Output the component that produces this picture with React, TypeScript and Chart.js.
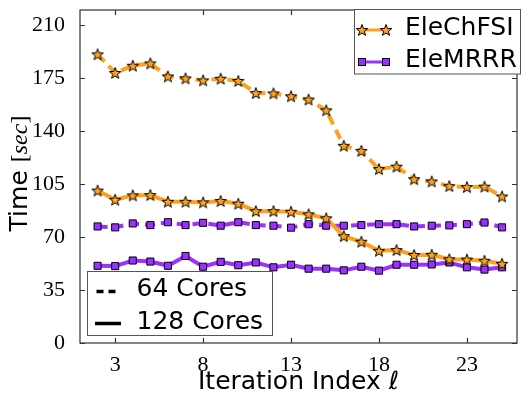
import React, { useEffect, useRef } from 'react';
import { Chart, registerables } from 'chart.js';

Chart.register(...registerables);

// ---- data ----
const iterations = [2, 3, 4, 5, 6, 7, 8, 9, 10, 11, 12, 13, 14, 15, 16, 17, 18, 19, 20, 21, 22, 23, 24, 25];
const eleChFSI64 = [190.7, 178.4, 183.2, 184.7, 176.1, 174.8, 173.5, 174.6, 173.1, 165.1, 164.9, 163.0, 160.8, 153.7, 130.3, 126.9, 114.9, 116.5, 108.2, 106.7, 103.6, 103.0, 103.3, 96.8];
const eleChFSI128 = [100.7, 94.6, 97.5, 97.7, 93.3, 93.3, 92.9, 93.8, 92.0, 87.1, 87.1, 86.7, 85.0, 82.4, 70.6, 66.9, 60.9, 61.4, 58.1, 58.3, 55.3, 55.1, 54.3, 52.3];
const eleMRRR64 = [77.0, 76.4, 79.0, 77.9, 79.8, 77.9, 79.4, 77.5, 79.8, 77.9, 77.5, 76.2, 78.5, 77.5, 77.5, 77.9, 78.5, 78.5, 77.0, 77.5, 77.7, 78.5, 79.6, 76.4];
const eleMRRR128 = [51.0, 50.8, 54.5, 53.8, 51.0, 57.5, 50.4, 53.6, 51.4, 53.2, 50.0, 51.7, 49.1, 49.1, 48.0, 50.4, 47.8, 51.7, 51.7, 51.9, 53.2, 50.0, 48.5, 50.0];
const xTicks = [3, 8, 13, 18, 23];
const yTicks = [0, 35, 70, 105, 140, 175, 210];
const seriesNames = ['EleChFSI', 'EleMRRR'];
const coreLabels = ['64 Cores', '128 Cores'];

const ORANGE = '#ffa11f';
const PURPLE = '#9b30ff';
const SANS = '"DejaVu Sans", sans-serif';
const SERIF = '"Liberation Serif", serif';

function makeStar(r: number, fill: string): HTMLCanvasElement {
  const size = Math.ceil(r * 2 + 4);
  const c = document.createElement('canvas');
  c.width = size;
  c.height = size;
  const ctx = c.getContext('2d')!;
  const cx = size / 2;
  const cy = size / 2 + 0.5;
  ctx.beginPath();
  for (let i = 0; i < 10; i++) {
    const rad = i % 2 === 0 ? r : r * 0.42;
    const a = -Math.PI / 2 + (i * Math.PI) / 5;
    const x = cx + rad * Math.cos(a);
    const y = cy + rad * Math.sin(a);
    if (i === 0) ctx.moveTo(x, y);
    else ctx.lineTo(x, y);
  }
  ctx.closePath();
  ctx.fillStyle = fill;
  ctx.fill();
  ctx.lineWidth = 1;
  ctx.strokeStyle = '#000';
  ctx.stroke();
  return c;
}

function toPoints(vals: number[]) {
  return vals.map((v, i) => ({ x: iterations[i], y: v }));
}

export default function App() {
  const ref = useRef<HTMLCanvasElement>(null);

  useEffect(() => {
    if (!ref.current) return;
    const star = makeStar(6, ORANGE);

    const drawSquare = (ctx: CanvasRenderingContext2D, x: number, y: number) => {
      ctx.fillStyle = PURPLE;
      ctx.fillRect(x - 3.5, y - 3.5, 7, 7);
      ctx.lineWidth = 1;
      ctx.strokeStyle = '#000';
      ctx.strokeRect(x - 3.5, y - 3.5, 7, 7);
    };

    const decor = {
      id: 'decor',
      afterDraw(chart: any) {
        const ctx: CanvasRenderingContext2D = chart.ctx;
        const { left, right, top, bottom } = chart.chartArea;
        const xs = chart.scales.x;
        const ys = chart.scales.y;
        ctx.save();
        // frame
        ctx.strokeStyle = '#333';
        ctx.lineWidth = 1.2;
        ctx.strokeRect(left, top, right - left, bottom - top);
        // inward ticks
        ctx.beginPath();
        xTicks.forEach((v) => {
          const px = Math.round(xs.getPixelForValue(v)) + 0.5;
          ctx.moveTo(px, bottom);
          ctx.lineTo(px, bottom - 5);
          ctx.moveTo(px, top);
          ctx.lineTo(px, top + 5);
        });
        yTicks.forEach((v) => {
          const py = Math.round(ys.getPixelForValue(v)) + 0.5;
          ctx.moveTo(left, py);
          ctx.lineTo(left + 5, py);
          ctx.moveTo(right, py);
          ctx.lineTo(right - 5, py);
        });
        ctx.stroke();

        // y title with mixed fonts
        const parts: [string, string][] = [
          ['Time ', `25px ${SANS}`],
          ['[', `24px ${SERIF}`],
          ['sec', `italic 24px ${SERIF}`],
          [']', `24px ${SERIF}`],
        ];
        let total = 0;
        parts.forEach(([t, f]) => {
          ctx.font = f;
          total += ctx.measureText(t).width;
        });
        ctx.translate(27, 173.5 + total / 2);
        ctx.rotate(-Math.PI / 2);
        ctx.fillStyle = '#000';
        ctx.textBaseline = 'alphabetic';
        ctx.textAlign = 'left';
        let off = 0;
        parts.forEach(([t, f]) => {
          ctx.font = f;
          ctx.fillText(t, off, 0);
          off += ctx.measureText(t).width;
        });
        ctx.setTransform(1, 0, 0, 1, 0, 0);

        // legend 1 (series)
        ctx.fillStyle = '#fff';
        ctx.fillRect(354.5, 9.5, 166, 64.5);
        ctx.strokeStyle = '#555';
        ctx.lineWidth = 1;
        ctx.strokeRect(354.5, 9.5, 166, 64.5);
        ctx.lineWidth = 3;
        ctx.strokeStyle = ORANGE;
        ctx.beginPath();
        ctx.moveTo(362, 30);
        ctx.lineTo(386, 30);
        ctx.stroke();
        ctx.drawImage(star, 362 - star.width / 2, 30 - star.height / 2);
        ctx.drawImage(star, 386 - star.width / 2, 30 - star.height / 2);
        ctx.strokeStyle = PURPLE;
        ctx.beginPath();
        ctx.moveTo(362, 62);
        ctx.lineTo(386, 62);
        ctx.stroke();
        drawSquare(ctx, 362, 62);
        drawSquare(ctx, 386, 62);
        ctx.fillStyle = '#000';
        ctx.font = `25px ${SANS}`;
        ctx.fillText(seriesNames[0], 405, 35);
        ctx.fillText(seriesNames[1], 405, 67);

        // legend 2 (cores)
        ctx.fillStyle = '#fff';
        ctx.fillRect(87.5, 271.5, 185, 64);
        ctx.strokeStyle = '#555';
        ctx.lineWidth = 1;
        ctx.strokeRect(87.5, 271.5, 185, 64);
        ctx.strokeStyle = '#000';
        ctx.lineWidth = 3.5;
        ctx.setLineDash([7, 5]);
        ctx.beginPath();
        ctx.moveTo(96.5, 291.5);
        ctx.lineTo(117, 291.5);
        ctx.stroke();
        ctx.setLineDash([]);
        ctx.beginPath();
        ctx.moveTo(95, 323.5);
        ctx.lineTo(121, 323.5);
        ctx.stroke();
        ctx.fillStyle = '#000';
        ctx.font = `25px ${SANS}`;
        ctx.fillText(coreLabels[0], 136.5, 296);
        ctx.fillText(coreLabels[1], 136.5, 329);
        ctx.restore();
      },
    };

    const chart = new Chart(ref.current, {
      type: 'line',
      data: {
        datasets: [
          {
            label: `${seriesNames[0]} ${coreLabels[0]}`,
            data: toPoints(eleChFSI64),
            borderColor: ORANGE,
            borderWidth: 4,
            borderDash: [10, 6],
            pointStyle: star as any,
            pointRadius: 6,
          },
          {
            label: `${seriesNames[0]} ${coreLabels[1]}`,
            data: toPoints(eleChFSI128),
            borderColor: ORANGE,
            borderWidth: 4,
            pointStyle: star as any,
            pointRadius: 6,
          },
          {
            label: `${seriesNames[1]} ${coreLabels[0]}`,
            data: toPoints(eleMRRR64),
            borderColor: PURPLE,
            backgroundColor: PURPLE,
            borderWidth: 4,
            borderDash: [10, 6],
            pointStyle: 'rect',
            pointRadius: 5,
            pointBorderColor: '#000',
            pointBorderWidth: 1,
          },
          {
            label: `${seriesNames[1]} ${coreLabels[1]}`,
            data: toPoints(eleMRRR128),
            borderColor: PURPLE,
            backgroundColor: PURPLE,
            borderWidth: 4,
            pointStyle: 'rect',
            pointRadius: 5,
            pointBorderColor: '#000',
            pointBorderWidth: 1,
          },
        ],
      },
      options: {
        responsive: false,
        animation: false,
        layout: { padding: { top: 2, right: 1, left: 0, bottom: 0 } },
        plugins: { legend: { display: false }, tooltip: { enabled: false } },
        scales: {
          x: {
            type: 'linear',
            min: 1,
            max: 25.85,
            grid: { display: false },
            border: { display: false },
            afterBuildTicks: (s: any) => {
              s.ticks = xTicks.map((v) => ({ value: v }));
            },
            afterFit: (s: any) => {
              s.height = 55;
              s.paddingLeft = 0;
              s.paddingRight = 0;
            },
            ticks: {
              padding: 1,
              maxRotation: 0,
              autoSkip: false,
              color: '#000',
              font: { family: SERIF, size: 22 },
            },
            title: {
              display: true,
              text: 'Iteration Index ℓ',
              color: '#000',
              font: { family: SANS, size: 25 },
              padding: { top: 0, bottom: 1 },
            },
          },
          y: {
            type: 'linear',
            min: 0,
            max: 220,
            grid: { display: false },
            border: { display: false },
            afterBuildTicks: (s: any) => {
              s.ticks = yTicks.map((v) => ({ value: v }));
            },
            afterFit: (s: any) => {
              s.width = 80;
              s.paddingTop = 0;
              s.paddingBottom = 0;
            },
            ticks: {
              padding: 7,
              autoSkip: false,
              color: '#000',
              font: { family: SERIF, size: 22 },
            },
          },
        },
      },
      plugins: [decor],
    });
    return () => chart.destroy();
  }, []);

  return (
    <div style={{ position: 'absolute', left: 0, top: 0, width: 527, height: 398, background: '#fff' }}>
      <canvas ref={ref} width={527} height={398} />
    </div>
  );
}
